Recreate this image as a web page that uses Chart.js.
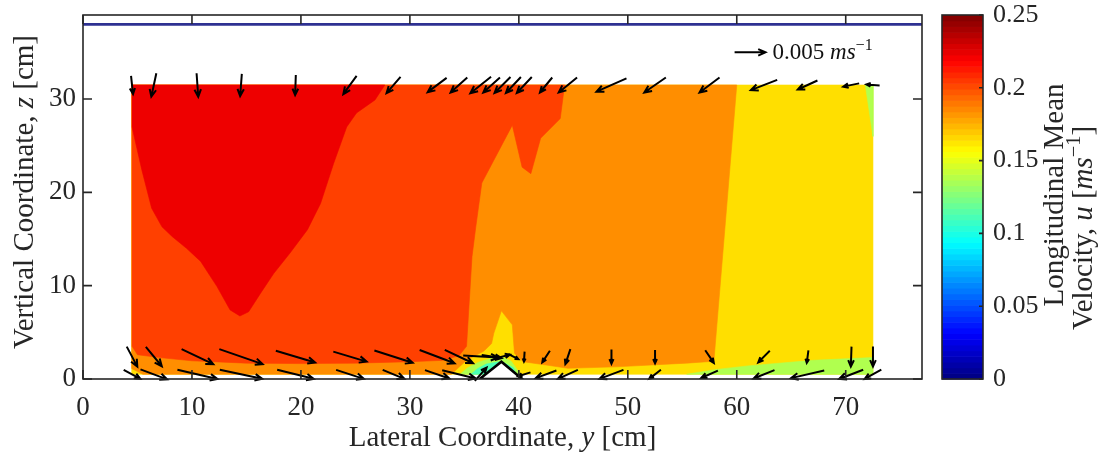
<!DOCTYPE html>
<html>
<head>
<meta charset="utf-8">
<script src="https://cdn.jsdelivr.net/npm/chart.js@4.4.1/dist/chart.umd.min.js"></script>
<style>
  html, body { margin: 0; padding: 0; background: #fff; }
</style>
</head>
<body>
<canvas id="velChart" width="1102" height="456"></canvas>
<script>
// lateral positions of the ADV verticals [cm]
const lateralPos = [4.5, 6.5, 10.5, 14.5, 19.5, 24.5, 28.5, 32.5, 34.5, 36.5, 37.5, 38.5, 39.5, 40.5, 42.5, 44.5, 48.5, 52.5, 57.5, 62.5, 66.5, 70.5, 72.5];
// heights of the three measuring rows [cm]
const rowTopZ = 31.5;
const rowMidZ = 2.4;
const rowBotZ = 0.5;
// secondary velocities [mm/s], v = lateral, w = vertical
const vTop = [0.32, -0.81, 0.27, -0.27, -0.11, -2.15, -2.26, -3.07, -2.70, -3.34, -2.70, -2.58, -2.42, -2.42, -1.99, -2.97, -4.85, -3.49, -3.23, -4.26, -3.18, -2.58, -2.15];
const wTop = [-3.45, -4.42, -4.42, -4.21, -3.77, -3.45, -3.08, -2.70, -2.83, -3.08, -2.83, -3.02, -3.02, -3.02, -2.83, -2.83, -2.51, -2.83, -2.83, -1.94, -1.70, -0.62, 0.19];
const vMid = [1.71, 2.58, 5.11, 7.0, 6.35, 5.38, 6.19, 5.65, 4.57, 5.65, 3.2, 2.4, 1.6, -0.1, -1.23, -0.81, 0, 0, 1.39, -1.87, -0.27, -0.11, 0];
const wMid = [-3.77, -3.64, -2.83, -2.83, -2.21, -1.89, -2.32, -2.51, -2.51, -0.38, -0.57, 0.75, -0.94, -1.89, -2.19, -2.83, -2.7, -2.51, -2.38, -2.19, -2.38, -3.77, -3.77];
const vBot = [2.70, 4.31, 6.46, 6.85, 5.91, 4.47, 3.51, 3.93, 5.40, 1.9, null, null, null, -2.0, -3.34, -3.23, -3.88, -1.89, -2.70, -3.39, -5.38, -3.88, -2.70];
const wBot = [-1.70, -1.89, -1.75, -1.70, -1.70, -1.70, -1.70, -1.58, -1.57, 2.5, null, null, null, -0.75, -1.43, -1.70, -1.70, -1.70, -1.38, -1.57, -1.43, -1.75, -1.75];
const refSpeed = 5; // 0.005 m/s key arrow

// contour zones of u [m/s], outlines as [y, z] in cm
const zoneBase = [[4.5, 0.5], [72.5, 0.5], [72.5, 31.5], [4.5, 31.5]];
const zoneLimeBottom = [[55.4, 0.5], [72.5, 0.5], [72.5, 2.3], [67, 2.0], [61, 1.4], [58, 1.0]];
const zoneLimeTop = [[71.8, 31.5], [72.5, 31.5], [72.5, 26]];
const zoneOrange = [[4.5, 1.1], [5.5, 0.5], [33.8, 0.5], [35.2, 2.0], [36.8, 3.0], [37.5, 3.8], [37.7, 4.9], [38.4, 7.3], [39.4, 5.8], [39.6, 2.75], [40.4, 1.85], [42.5, 1.5], [44.5, 1.15], [48.9, 1.3], [55.4, 1.7], [57.9, 1.9], [60, 31.5], [4.5, 31.5]];
const zoneOrangeRed = [[4.5, 31.5], [44.2, 31.5], [43.8, 27.9], [42.0, 25.8], [41.1, 22.0], [40.3, 22.7], [39.4, 27.2], [36.6, 21.0], [36.05, 16.3], [35.7, 13.1], [35.2, 3.5], [34.5, 2.5], [33, 2.0], [30, 1.85], [25, 1.7], [20, 1.65], [15, 1.7], [10, 1.95], [7, 2.3], [5, 2.6], [4.5, 3.5]];
const zoneRed = [[4.5, 31.5], [27.7, 31.5], [26.8, 29.9], [25.1, 28.5], [24.2, 27.0], [23.0, 23.1], [21.8, 18.8], [20.6, 16.0], [19.0, 13.5], [17.5, 11.3], [16.3, 9.2], [15.2, 7.2], [14.4, 6.75], [13.5, 7.4], [12.3, 9.9], [10.8, 12.6], [9.5, 14.0], [8.2, 15.25], [7.25, 16.3], [6.3, 18.3], [5.4, 22.4], [4.5, 27.0]];
const zoneBumpLime = [[34.6, 0.5], [35.3, 1.2], [36.3, 1.8], [37.4, 2.2], [38.4, 2.4], [39.3, 1.9], [39.9, 0.9], [40.2, 0.5]];
const zoneBumpAqua = [[35.6, 0.5], [36.2, 1.1], [37.0, 1.6], [38.4, 1.9], [39.5, 1.2], [39.8, 0.5]];
const zoneShapes = [zoneBase, zoneLimeBottom, zoneLimeTop, zoneOrange, zoneOrangeRed, zoneRed, zoneBumpLime, zoneBumpAqua];
const zoneLevels = [0.164, 0.137, 0.137, 0.184, 0.203, 0.223, 0.137, 0.112];

// bed form and free surface
const bumpY = [36.4, 38.4, 40.3];
const bumpZ = [0, 1.85, 0];
const surfaceZ = 38;

const xTicks = [0, 10, 20, 30, 40, 50, 60, 70];
const yTicks = [0, 10, 20, 30];
const cbTicks = [0, 0.05, 0.1, 0.15, 0.2, 0.25];
const cbMax = 0.25;

const serif = "'Liberation Serif', 'DejaVu Serif', serif";
const axisInk = "#262626";
const arrowScale = 0.568; // cm of arrow per mm/s
const titleSize = 29;

function clamp01(v) { return Math.min(1, Math.max(0, v)); }
function jet(u) {
    const t = clamp01(u / cbMax);
    const r = clamp01(1.5 - Math.abs(4 * t - 3));
    const g = clamp01(1.5 - Math.abs(4 * t - 2));
    const b = clamp01(1.5 - Math.abs(4 * t - 1));
    return "rgb(" + Math.round(r * 255) + "," + Math.round(g * 255) + "," + Math.round(b * 255) + ")";
}

// draw text made of pieces (italic / superscript)
function drawRich(ctx, parts, x, y, size, align) {
    const fontOf = p => (p.it ? "italic " : "") + (p.sup ? size * 0.7 : size) + "px " + serif;
    let total = 0;
    parts.forEach(p => { ctx.font = fontOf(p); total += ctx.measureText(p.t).width; });
    let cx = align === "center" ? x - total / 2 : x;
    ctx.textAlign = "left";
    ctx.textBaseline = "alphabetic";
    parts.forEach(p => {
        ctx.font = fontOf(p);
        ctx.fillText(p.t, cx, p.sup ? y - size * 0.4 : y);
        cx += ctx.measureText(p.t).width;
    });
}

function drawArrow(ctx, xs, ys, y0, z0, y1, z1) {
    const ax = xs.getPixelForValue(y0), ay = ys.getPixelForValue(z0);
    const bx = xs.getPixelForValue(y1), by = ys.getPixelForValue(z1);
    const len = Math.hypot(bx - ax, by - ay);
    if (len < 0.5) return;
    const ang = Math.atan2(by - ay, bx - ax);
    const hl = Math.min(8, len * 0.35);
    ctx.beginPath();
    ctx.moveTo(ax, ay);
    ctx.lineTo(bx, by);
    ctx.moveTo(bx - hl * Math.cos(ang - 0.42), by - hl * Math.sin(ang - 0.42));
    ctx.lineTo(bx, by);
    ctx.lineTo(bx - hl * Math.cos(ang + 0.42), by - hl * Math.sin(ang + 0.42));
    ctx.stroke();
}

const quiverPlugin = {
    id: "quiver",
    afterDatasetsDraw(chart) {
        const { ctx, scales: { x, y } } = chart;
        const rows = [[rowTopZ, vTop, wTop], [rowMidZ, vMid, wMid], [rowBotZ, vBot, wBot]];
        ctx.save();
        ctx.strokeStyle = "#000";
        ctx.lineWidth = 2;
        ctx.lineJoin = "miter";
        rows.forEach(([z, vs, ws]) => {
            lateralPos.forEach((p, i) => {
                if (vs[i] === null) return;
                const dy = vs[i] * arrowScale / 2, dz = ws[i] * arrowScale / 2;
                drawArrow(ctx, x, y, p - dy, z - dz, p + dy, z + dz);
            });
        });
        // key arrow
        drawArrow(ctx, x, y, 59.8, 35.0, 59.8 + refSpeed * arrowScale, 35.0);
        ctx.fillStyle = "#111";
        drawRich(ctx, [{ t: "0.005 " }, { t: "ms", it: true }, { t: "\u22121", sup: true }],
            x.getPixelForValue(59.8 + refSpeed * arrowScale) + 7, y.getPixelForValue(35.0) + 7, 23, "left");
        ctx.restore();
    }
};

const framePlugin = {
    id: "frame",
    afterDraw(chart) {
        const { ctx, chartArea: a, scales: { x, y, cb } } = chart;
        ctx.save();
        ctx.strokeStyle = axisInk;
        ctx.lineWidth = 1.6;
        ctx.strokeRect(a.left, a.top, a.right - a.left, a.bottom - a.top);
        ctx.beginPath();
        xTicks.forEach(v => {
            const px = x.getPixelForValue(v);
            ctx.moveTo(px, a.bottom); ctx.lineTo(px, a.bottom - 9);
            ctx.moveTo(px, a.top); ctx.lineTo(px, a.top + 9);
        });
        yTicks.forEach(v => {
            const py = y.getPixelForValue(v);
            ctx.moveTo(a.left, py); ctx.lineTo(a.left + 9, py);
            ctx.moveTo(a.right, py); ctx.lineTo(a.right - 9, py);
        });
        ctx.stroke();

        // colour bar
        const bl = a.right + 20, br = a.right + 61;
        const nBins = 64;
        for (let i = 0; i < nBins; i++) {
            const u0 = cbMax * i / nBins, u1 = cbMax * (i + 1) / nBins;
            const p0 = cb.getPixelForValue(u0), p1 = cb.getPixelForValue(u1);
            ctx.fillStyle = jet((u0 + u1) / 2);
            ctx.fillRect(bl, p1, br - bl, p0 - p1 + 0.6);
        }
        ctx.strokeRect(bl, cb.getPixelForValue(cbMax), br - bl, cb.getPixelForValue(0) - cb.getPixelForValue(cbMax));
        ctx.beginPath();
        cbTicks.forEach(v => {
            const py = cb.getPixelForValue(v);
            ctx.moveTo(br, py); ctx.lineTo(br - 4, py);
        });
        ctx.stroke();

        // axis titles
        ctx.fillStyle = axisInk;
        drawRich(ctx, [{ t: "Lateral Coordinate, " }, { t: "y", it: true }, { t: " [cm]" }],
            (a.left + a.right) / 2, 446, titleSize, "center");
        ctx.save();
        ctx.translate(33, 192);
        ctx.rotate(-Math.PI / 2);
        drawRich(ctx, [{ t: "Vertical Coordinate, " }, { t: "z", it: true }, { t: " [cm]" }], 0, 0, titleSize, "center");
        ctx.restore();
        ctx.save();
        ctx.translate(1063, 195);
        ctx.rotate(-Math.PI / 2);
        drawRich(ctx, [{ t: "Longitudinal Mean" }], 0, 0, titleSize, "center");
        ctx.restore();
        ctx.save();
        ctx.translate(1092, 228);
        ctx.rotate(-Math.PI / 2);
        drawRich(ctx, [{ t: "Velocity, " }, { t: "u", it: true }, { t: " [" }, { t: "ms", it: true }, { t: "\u22121", sup: true }, { t: "]" }], 0, 0, titleSize, "center");
        ctx.restore();
        ctx.restore();
    }
};

const toPoints = shape => shape.concat([shape[0]]).map(([py, pz]) => ({ x: py, y: pz }));

const zoneSets = zoneShapes.map((shape, i) => ({
    data: toPoints(shape),
    backgroundColor: jet(zoneLevels[i]),
    borderColor: jet(zoneLevels[i]),
    borderWidth: 0.6,
    pointRadius: 0,
    fill: "shape",
    order: 100 - i
}));

const bumpSet = {
    data: bumpY.map((b, i) => ({ x: b, y: bumpZ[i] })).concat([{ x: bumpY[0], y: bumpZ[0] }]),
    backgroundColor: "#fff",
    borderColor: "#000",
    borderWidth: 2.6,
    pointRadius: 0,
    fill: "shape",
    order: 2
};

const surfaceSet = {
    data: [{ x: 0, y: surfaceZ }, { x: 77, y: surfaceZ }],
    borderColor: "#2E3192",
    borderWidth: 2.6,
    pointRadius: 0,
    fill: false,
    order: 1
};

// keep vertical scales from adding label padding above/below the plot
const noVertPad = s => { s.paddingTop = 0; s.paddingBottom = 0; };

const ctx = document.getElementById("velChart").getContext("2d");
new Chart(ctx, {
    type: "line",
    data: { datasets: zoneSets.concat([bumpSet, surfaceSet]) },
    options: {
        responsive: false,
        animation: false,
        devicePixelRatio: 1,
        layout: { padding: { top: 15, left: 0, right: 0, bottom: 0 } },
        plugins: { legend: { display: false }, tooltip: { enabled: false } },
        elements: { line: { tension: 0 } },
        scales: {
            x: {
                type: "linear", position: "bottom", min: 0, max: 77,
                afterBuildTicks: s => { s.ticks = xTicks.map(v => ({ value: v })); },
                afterFit: s => { s.height = 77; s.paddingLeft = 0; s.paddingRight = 0; },
                grid: { display: false, drawTicks: false },
                border: { display: false },
                ticks: { padding: 13, color: axisInk, font: { family: serif, size: 27 }, maxRotation: 0 }
            },
            y: {
                type: "linear", position: "left", min: 0, max: 39,
                afterBuildTicks: s => { s.ticks = yTicks.map(v => ({ value: v })); },
                afterFit: s => { s.width = 83; noVertPad(s); },
                grid: { display: false, drawTicks: false },
                border: { display: false },
                ticks: { padding: 7, color: axisInk, font: { family: serif, size: 27 } }
            },
            cb: {
                type: "linear", position: "right", min: 0, max: cbMax,
                afterBuildTicks: s => { s.ticks = cbTicks.map(v => ({ value: v })); },
                afterFit: s => { s.width = 180; noVertPad(s); },
                grid: { display: false, drawTicks: false },
                border: { display: false },
                ticks: { padding: 71, color: axisInk, font: { family: serif, size: 26 }, callback: v => String(v) }
            }
        }
    },
    plugins: [quiverPlugin, framePlugin]
});
</script>
</body>
</html>
